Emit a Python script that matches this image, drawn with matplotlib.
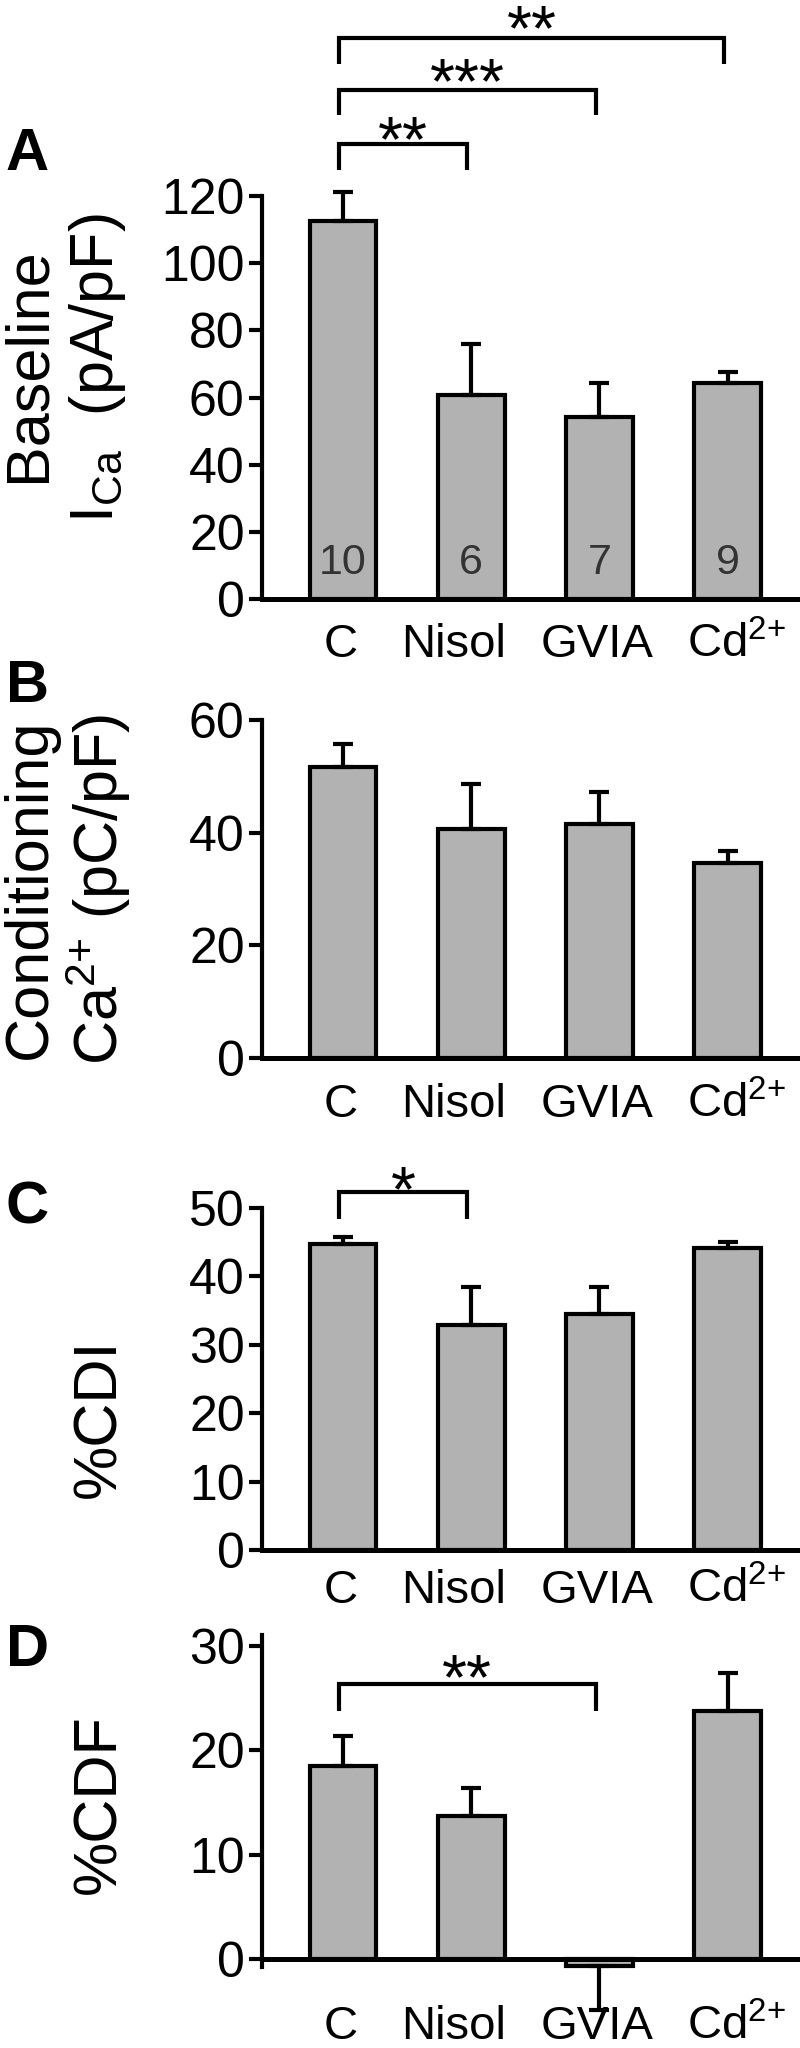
import matplotlib
matplotlib.use('Agg')
import matplotlib.pyplot as plt

plt.rcParams['font.family'] = ['Liberation Sans', 'DejaVu Sans']
plt.rcParams['mathtext.fontset'] = 'custom'
plt.rcParams['mathtext.rm'] = 'Liberation Sans'
plt.rcParams['mathtext.it'] = 'Liberation Sans:italic'
plt.rcParams['mathtext.bf'] = 'Liberation Sans:bold'

NARROW = ['Liberation Sans Narrow', 'Liberation Sans', 'DejaVu Sans']

# ---------------- data ----------------
groups = ['C', 'Nisol', 'GVIA', 'Cd$^{2{+}}$']
n_cells = ['10', '6', '7', '9']

baseline_mean = [112.5, 60.8, 54.1, 64.2]
baseline_sem = [8.8, 15.1, 10.3, 3.3]

cond_mean = [51.7, 40.6, 41.5, 34.7]
cond_sem = [4.0, 8.0, 5.8, 2.1]

cdi_mean = [44.7, 32.9, 34.5, 44.1]
cdi_sem = [1.0, 5.5, 3.9, 0.9]

cdf_mean = [18.5, 13.7, -0.7, 23.8]
cdf_sem = [2.9, 2.7, 4.2, 3.6]

# significance brackets: (group i, group j, bracket level, drop, stars level, label)
sig_A = [(0, 1, 135.6, 7.9, 141.6, '**'),
         (0, 2, 151.7, 7.7, 158.7, '***'),
         (0, 3, 166.9, 7.6, 174.5, '**')]
sig_C = [(0, 1, 52.3, 3.9, 55.0, '*')]
sig_D = [(0, 2, 26.4, 2.6, 28.5, '**')]

A_ticks = [0, 20, 40, 60, 80, 100, 120]
B_ticks = [0, 20, 40, 60]
C_ticks = [0, 10, 20, 30, 40, 50]
D_ticks = [0, 10, 20, 30]

# ---------------- layout ----------------
W, H = 800, 2048
fig = plt.figure(figsize=(W / 100, H / 100), dpi=100)

BAR_COLOR = '#b2b2b2'
LW = 3.0
XMIN, XMAX = -0.632, 3.565
xpos = list(range(len(groups)))
label_x = [-0.02, 0.86, 1.98, 3.07]


def px_axes(top, bottom):
    return [262 / W, 1 - bottom / H, 1 - 262 / W, (bottom - top) / H]


def make_panel(rect, means, sems, ticks, ylim, label_off, sigs, zero_line=False):
    ax = fig.add_axes(rect)
    ax.bar(xpos, means, width=0.52, color=BAR_COLOR, edgecolor='k',
           linewidth=LW, zorder=2, clip_on=False)
    lo = [s if m < 0 else 0 for m, s in zip(means, sems)]
    hi = [0 if m < 0 else s for m, s in zip(means, sems)]
    eb = ax.errorbar(xpos, means, yerr=[lo, hi], fmt='none', ecolor='k',
                     elinewidth=LW, capsize=7, capthick=LW, zorder=3)
    for a in list(eb.lines[1]) + list(eb.lines[2]):
        a.set_clip_on(False)
    ax.set_xlim(XMIN, XMAX)
    ax.set_ylim(*ylim)
    ax.set_yticks(ticks)
    ax.set_yticklabels([str(t) for t in ticks])
    ax.set_xticks([])
    for s in ['top', 'right']:
        ax.spines[s].set_visible(False)
    ax.spines['left'].set_linewidth(LW)
    if zero_line:
        ax.spines['bottom'].set_visible(False)
        ax.axhline(0, color='k', lw=3.6, zorder=2.5)
    else:
        ax.spines['bottom'].set_linewidth(3.6)
    ax.tick_params(axis='y', length=9.5, width=LW, labelsize=36, pad=3)
    for x, g in zip(label_x, groups):
        ax.annotate(g, xy=(x, 0), xycoords=('data', 'axes fraction'),
                    xytext=(0, -label_off), textcoords='offset points',
                    ha='center', va='baseline', fontsize=34, family=NARROW,
                    annotation_clip=False)
    for i, j, yb, d, ys, lab in sigs:
        x0, x1 = xpos[i] - 0.03, xpos[j] - 0.03
        ax.plot([x0, x0, x1, x1], [yb - d, yb, yb, yb - d], color='k', lw=LW,
                clip_on=False, solid_joinstyle='miter', solid_capstyle='butt')
        ax.annotate(lab, xy=((x0 + x1) / 2, ys), xycoords='data',
                    xytext=(0, -27), textcoords='offset points',
                    ha='center', va='baseline', fontsize=46,
                    annotation_clip=False)
    return ax


# Panel A
axA = make_panel(px_axes(196, 599), baseline_mean, baseline_sem, A_ticks,
                 (0, 120), 42, sig_A)
for x, n in zip(xpos, n_cells):
    axA.text(x, 10.7, n, ha='center', va='center', fontsize=31,
             color='#333333', family=NARROW)

# Panel B
axB = make_panel(px_axes(720, 1058), cond_mean, cond_sem, B_ticks,
                 (0, 60), 42.5, [])

# Panel C
axC = make_panel(px_axes(1208, 1550), cdi_mean, cdi_sem, C_ticks,
                 (0, 50), 38, sig_C)

# Panel D
d_px = (1959 - 1646) / 30.0
axD = make_panel([262 / W, 1 - (1959 + 0.77 * d_px) / H, 1 - 262 / W,
                  (31.05 + 0.77) * d_px / H],
                 cdf_mean, cdf_sem, D_ticks, (-0.77, 31.05), 52, sig_D,
                 zero_line=True)

# panel letters
for lab, yc in [('A', 155), ('B', 686), ('C', 1208), ('D', 1650)]:
    fig.text(6 / W, 1 - yc / H, lab, ha='left', va='center', fontsize=43,
             fontweight='bold')

# y labels
ylab_fs = 44
fig.text(29 / W, 1 - 365 / H, 'Baseline', rotation=90, ha='center',
         va='center', fontsize=ylab_fs)
fig.text(98 / W, 1 - 368 / H, 'I$_{\\mathregular{Ca}}$  (pA/pF)', rotation=90,
         ha='center', va='center', fontsize=ylab_fs)
fig.text(30 / W, 1 - 889 / H, 'Conditioning', rotation=90, ha='center',
         va='center', fontsize=ylab_fs)
fig.text(98 / W, 1 - 889 / H, 'Ca$^{2{+}}$ (pC/pF)', rotation=90, ha='center',
         va='center', fontsize=ylab_fs)
fig.text(100 / W, 1 - 1418 / H, '%CDI', rotation=90, ha='center',
         va='center', fontsize=ylab_fs)
fig.text(100 / W, 1 - 1804 / H, '%CDF', rotation=90, ha='center',
         va='center', fontsize=ylab_fs)

fig.savefig('out.png', dpi=100)
